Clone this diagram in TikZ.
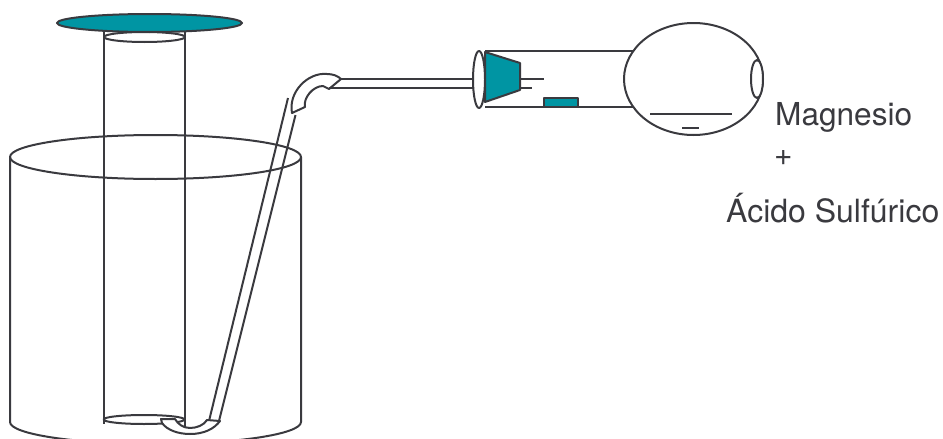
\documentclass[tikz,border=0pt]{standalone}
\usepackage{fontspec}
\setmainfont{TeX Gyre Heros}
\definecolor{ink}{HTML}{3A3A3F}
\definecolor{teal1}{HTML}{0095A3}
\tikzset{
  ln/.style={draw=ink,line width=2pt,line join=round},
  lbl/.style={anchor=base west,inner sep=0pt,text=ink,font=\fontsize{31.6pt}{36pt}\selectfont},
  lblwide/.style={lbl,font=\fontsize{32pt}{36pt}\selectfont},
  tealfill/.style={ln,fill=teal1}
}
\begin{document}
\begin{tikzpicture}[x=1pt,y=-1pt]
\useasboundingbox (0,0) rectangle (943,439);
% beaker
\draw[ln] (155.5,157) ellipse [x radius=145.5,y radius=22];
\draw[ln] (10,157) -- (10,422) arc [start angle=180,end angle=0,x radius=145.5,y radius=22] -- (301,157);
% cylinder
\draw[ln] (104,28) -- (104,424);
\draw[ln] (185,28) -- (185,427);
\draw[ln] (144.5,37) ellipse [x radius=40.5,y radius=5];
\draw[ln] (144,419.5) ellipse [x radius=40.5,y radius=4.5];
\draw[tealfill] (149.5,23) ellipse [x radius=92.5,y radius=9];
% glass tube
\draw[ln] (288,98) -- (209,421);
\draw[ln] (295.5,115) -- (219,421);
\draw[ln,fill=white] (292,113) .. controls (288,92) and (308,72) .. (327,74)
   .. controls (333,74) and (338,76) .. (341,79) -- (329,89) -- (323,86)
   .. controls (313,86) and (303,98) .. (305,107) -- cycle;
\draw[ln,fill=white] (161,419) -- (162,423) .. controls (167,430) and (178,434) .. (190,434)
   .. controls (204,434) and (214,429) .. (220,421) -- (207,420)
   .. controls (204,425) and (197,428) .. (190,428)
   .. controls (183,428) and (178,424) .. (175,419) -- cycle;
\draw[ln] (341,79) -- (473,79);
\draw[ln] (329,88) -- (473,88);
% flask
\draw[ln] (485,51) -- (634,51);
\draw[ln] (485,107) -- (634,107);
\draw[ln,fill=white] (693.5,79) ellipse [x radius=69.5,y radius=56];
\draw[ln,fill=white] (757,79) ellipse [x radius=6,y radius=19];
\draw[ln,fill=white] (479,79.5) ellipse [x radius=6,y radius=28.5];
\draw[tealfill] (485,52) -- (520,63) -- (520,90) -- (485,102) -- cycle;
\draw[ln] (520,79) -- (544,79);
\draw[ln] (520,88) -- (532,88);
\draw[tealfill] (543.5,98) rectangle (578,107);
\draw[ln] (650,114) -- (732,114);
\draw[ln] (682,128) -- (699,128);
% labels
\node[lbl] (mg) at (775,125) {Magnesio};
\node[lbl] (plus) at (774,165) {+};
\node[lblwide] (acid) at (726,222) {Ácido Sulfúrico};
\end{tikzpicture}
\end{document}
